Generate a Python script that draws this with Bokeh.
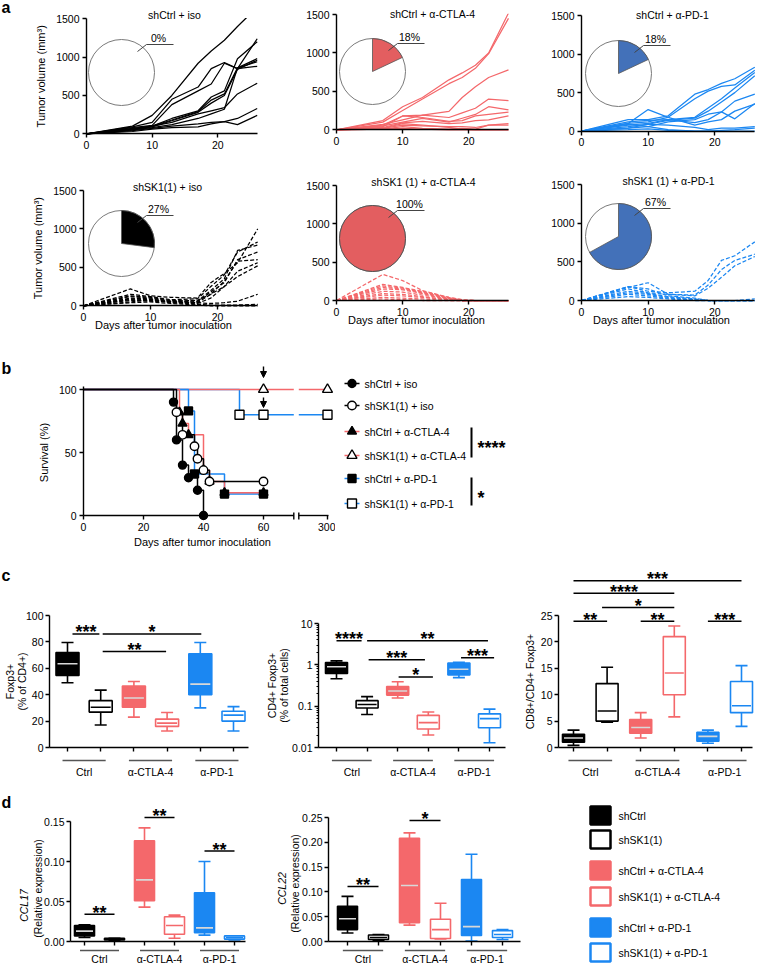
import math
from bokeh.plotting import figure
from bokeh.layouts import column, row
from bokeh.models import (Range1d, FixedTicker, Label, Arrow, NormalHead,
                          NumeralTickFormatter, BoxAnnotation)
from bokeh.embed import file_html
from bokeh.resources import INLINE

FONT = "Liberation Sans"
BLACK = "#000000"
RED = "#F4686B"
BLUE = "#1B87F2"
PIE_RED = "#E35E60"
PIE_BLUE = "#4371B9"
GREY = "#555555"

# ---------------- panel a data ----------------
days = [0, 7, 10, 13, 17, 19, 21, 23, 26]
day_ticks = [0, 10, 20]
vol_ticks = [0, 500, 1000, 1500]
vol_shctrl_iso = [
    [0, 100, 240, 500, 920, 1080, 1220, 1400, 1650],
    [0, 90, 150, 450, 610, 850, 930, 850, 880],
    [0, 80, 110, 380, 560, 650, 920, 850, 1240],
    [0, 70, 100, 200, 300, 480, 560, 980, 1200],
    [0, 60, 100, 180, 290, 440, 520, 860, 980],
    [0, 50, 90, 170, 280, 400, 500, 840, 960],
    [0, 60, 100, 150, 260, 300, 340, 520, 660],
    [0, 50, 80, 120, 200, 260, 320, 860, 940],
    [0, 40, 70, 100, 130, 150, 160, 200, 330],
    [0, 30, 60, 80, 90, 130, 160, 120, 240],
]
vol_shctrl_ctla4 = [
    [0, 120, 300, 420, 650, 740, 840, 1000, 1520],
    [0, 100, 250, 400, 600, 680, 800, 990, 1450],
    [0, 60, 180, 190, 240, 420, 560, 680, 780],
    [0, 70, 130, 190, 160, 220, 280, 400, 380],
    [0, 50, 100, 150, 100, 150, 200, 300, 260],
    [0, 40, 180, 160, 110, 120, 180, 200, 230],
    [0, 30, 90, 110, 80, 90, 120, 130, 180],
    [0, 20, 60, 50, 40, 40, 30, 60, 80],
    [0, 10, 40, 20, 10, 20, 10, 60, 60],
    [0, 20, 80, 60, 30, 10, 0, 0, 0],
    [0, 10, 20, 10, 0, 0, 0, 0, 0],
]
vol_shctrl_pd1 = [
    [0, 150, 150, 200, 480, 540, 620, 680, 830],
    [0, 100, 120, 180, 420, 520, 580, 600, 790],
    [0, 80, 100, 150, 180, 300, 420, 560, 760],
    [0, 60, 90, 140, 170, 260, 380, 500, 720],
    [0, 40, 60, 120, 150, 220, 250, 390, 480],
    [0, 120, 140, 150, 110, 150, 250, 160, 360],
    [0, 100, 280, 180, 80, 120, 150, 260, 350],
    [0, 40, 90, 80, 50, 20, 40, 40, 60],
    [0, 20, 30, 10, 0, 0, 10, 20, 40],
    [0, 90, 60, 20, 0, 0, 0, 0, 0],
]
vol_shsk1_iso = [
    [0, 220, 130, 110, 100, 300, 420, 560, 1000],
    [0, 150, 120, 80, 90, 250, 400, 700, 830],
    [0, 130, 110, 70, 60, 200, 350, 720, 790],
    [0, 120, 100, 60, 50, 180, 300, 600, 700],
    [0, 100, 90, 50, 40, 150, 320, 580, 600],
    [0, 90, 80, 40, 30, 100, 250, 450, 560],
    [0, 80, 70, 60, 70, 150, 250, 380, 520],
    [0, 70, 60, 50, 40, 30, 40, 60, 150],
    [0, 50, 80, 50, 20, 10, 10, 10, 20],
    [0, 40, 50, 30, 10, 0, 0, 0, 0],
]
vol_shsk1_ctla4 = [
    [0, 340, 260, 130, 40, 10, 0, 0, 0],
    [0, 210, 170, 120, 40, 10, 0, 0, 0],
    [0, 190, 160, 110, 30, 0, 0, 0, 0],
    [0, 170, 150, 100, 30, 0, 0, 0, 0],
    [0, 150, 140, 90, 20, 0, 0, 0, 0],
    [0, 120, 110, 70, 20, 0, 0, 0, 0],
    [0, 90, 80, 50, 10, 0, 0, 0, 0],
    [0, 70, 60, 40, 10, 0, 0, 0, 0],
    [0, 40, 30, 20, 0, 0, 0, 0, 0],
    [0, 20, 10, 0, 0, 0, 0, 0, 0],
]
vol_shsk1_pd1 = [
    [0, 180, 120, 100, 120, 260, 520, 580, 760],
    [0, 170, 230, 80, 70, 200, 400, 520, 600],
    [0, 150, 100, 80, 60, 160, 300, 450, 570],
    [0, 180, 150, 60, 30, 0, 0, 0, 20],
    [0, 120, 90, 50, 20, 0, 0, 0, 0],
    [0, 100, 80, 40, 10, 0, 0, 0, 0],
    [0, 80, 60, 30, 10, 0, 0, 0, 0],
    [0, 50, 40, 20, 0, 0, 0, 0, 0],
]
tumor_titles = ["shCtrl + iso", "shCtrl + α-CTLA-4", "shCtrl + α-PD-1",
                "shSK1(1) + iso", "shSK1 (1) + α-CTLA-4", "shSK1 (1) + α-PD-1"]
tumor_free_pct = [0, 18, 18, 27, 100, 67]

# ---------------- panel b data ----------------
surv_names = ["shCtrl + iso", "shSK1(1) + iso", "shCtrl + α-CTLA-4",
              "shSK1(1) + α-CTLA-4", "shCtrl + α-PD-1", "shSK1(1) + α-PD-1"]
surv_t = [
    [0, 30, 31, 33, 35, 38, 40],
    [0, 31, 33, 37, 38, 40, 42, 60],
    [0, 32, 33, 35, 40, 42, 47, 60],
    [0, 60, 300],
    [0, 35, 37, 47, 60],
    [0, 52, 60, 300],
]
surv_s = [
    [100, 90, 60, 40, 30, 20, 0],
    [100, 82, 64, 55, 45, 36, 27, 27],
    [100, 82, 73, 64, 36, 27, 18, 18],
    [100, 100, 100],
    [100, 83, 33, 17, 17],
    [100, 80, 80, 80],
]
surv_ticks = [0, 20, 40, 60, 300]
surv_yticks = [0, 50, 100]

# ---------------- panel c / d data ----------------
box_groups = ["Ctrl", "α-CTLA-4", "α-PD-1"]
box_names = ["shCtrl", "shSK1(1)", "shCtrl + α-CTLA-4", "shSK1(1) + α-CTLA-4",
             "shCtrl + α-PD-1", "shSK1(1) + α-PD-1"]
# (lower whisker, Q1, median, Q3, upper whisker)
foxp3_pct_cd4 = [(49, 54.5, 63.5, 72, 79.5), (17, 26.8, 30.5, 35.5, 43.5),
                 (23, 30.5, 37.5, 46.5, 50), (12.5, 16, 18.5, 21.5, 26.5),
                 (30, 40, 48, 71, 79.5), (12.5, 20, 24.5, 27.5, 31)]
cd4_foxp3_pct_total = [(0.46, 0.62, 0.9, 1.14, 1.25), (0.063, 0.09, 0.11, 0.136, 0.17),
                       (0.157, 0.185, 0.232, 0.3, 0.39), (0.02, 0.028, 0.04, 0.06, 0.072),
                       (0.49, 0.57, 0.78, 1.1, 1.15), (0.013, 0.03, 0.05, 0.065, 0.085)]
cd8_cd4foxp3_ratio = [(0.4, 1.0, 1.8, 2.5, 3.3), (4.8, 5.0, 6.9, 12.1, 15.2),
                      (1.8, 2.7, 3.8, 5.3, 6.6), (5.8, 10.0, 14.1, 21.0, 23.0),
                      (0.8, 1.2, 2.1, 2.9, 3.3), (4.0, 6.6, 7.9, 12.5, 15.5)]
ccl17_expr = [(0.005, 0.007, 0.013, 0.020, 0.021), (0.001, 0.002, 0.003, 0.004, 0.004),
              (0.043, 0.051, 0.077, 0.126, 0.142), (0.004, 0.009, 0.020, 0.031, 0.033),
              (0.008, 0.011, 0.017, 0.061, 0.100), (0.002, 0.003, 0.005, 0.007, 0.007)]
ccl22_expr = [(0.017, 0.024, 0.046, 0.071, 0.091), (0.002, 0.004, 0.008, 0.013, 0.014),
              (0.033, 0.038, 0.113, 0.208, 0.219), (0.005, 0.006, 0.024, 0.045, 0.077),
              (0.001, 0.012, 0.030, 0.125, 0.176), (0.004, 0.008, 0.014, 0.022, 0.024)]
foxp3_ticks = [0, 20, 40, 60, 80, 100]
cd4_ticks = [0.01, 0.1, 1, 10]
ratio_ticks = [0, 5, 10, 15, 20, 25]
ccl17_ticks = [0, 0.05, 0.10, 0.15]
ccl22_ticks = [0, 0.05, 0.10, 0.15, 0.20, 0.25]
# significance: (stars, from box, to box, height)
sig_foxp3 = [("***", 1.15, 1.96, 86), ("*", 2.06, 5.03, 86), ("**", 2.06, 3.97, 72.7)]
sig_cd4 = [("****", 1.0, 1.82, 3.85), ("**", 2.0, 5.95, 3.85), ("***", 2.05, 3.89, 1.33),
           ("*", 3.03, 4.15, 0.51), ("***", 5.07, 6.15, 1.48)]
sig_ratio = [("**", 1.0, 2.0, 23.9), ("**", 3.0, 4.0, 23.9), ("***", 5.0, 6.0, 23.9),
             ("*", 1.85, 4.0, 26.5), ("****", 1.0, 4.0, 29.2), ("***", 1.0, 6.0, 31.6)]
sig_ccl17 = [("**", 1.0, 2.0, 0.034), ("**", 3.0, 4.0, 0.155), ("**", 5.0, 6.0, 0.113)]
sig_ccl22 = [("**", 1.0, 2.0, 0.111), ("*", 3.0, 4.0, 0.244)]

box_color = [BLACK, BLACK, RED, RED, BLUE, BLUE]
box_filled = [True, False, True, False, True, False]


# ---------------- helpers ----------------
class Map:
    """Maps pixel positions (page coordinates) of a figure box to data values."""

    def __init__(self, box, xa, pxa, xb, pxb, ya, pya, yb, pyb, ylog=False):
        left, top, w, h = box
        self.ylog = ylog
        f = (lambda v: math.log10(v)) if ylog else (lambda v: v)
        self.kx = (pxb - pxa) / (xb - xa)
        self.xa, self.pxa = xa, pxa
        self.ky = (pyb - pya) / (f(yb) - f(ya))
        self.ya, self.pya = f(ya), pya
        self.xr = (self.X(left), self.X(left + w))
        self.yr = (self.Y(top + h), self.Y(top))

    def X(self, px):
        return self.xa + (px - self.pxa) / self.kx

    def Y(self, py):
        v = self.ya + (py - self.pya) / self.ky
        return 10 ** v if self.ylog else v


def identity_map(box):
    return Map(box, 0, 0, 1, 1, 0, 0, 1, 1)


def mkfig(box, m, log=False, axes=True):
    kw = dict(width=box[2], height=box[3], x_range=Range1d(*m.xr), y_range=Range1d(*m.yr),
              min_border_left=0, min_border_right=0, min_border_top=0, min_border_bottom=0,
              toolbar_location=None, output_backend="svg")
    if log:
        kw["y_axis_type"] = "log"
    if not axes:
        kw["x_axis_location"] = None
        kw["y_axis_location"] = None
    p = figure(**kw)
    p.grid.visible = False
    p.outline_line_color = None
    p.background_fill_color = "white"
    p.border_fill_color = "white"
    return p


def axes_setup(p, xfix, yfix, xbounds, ybounds, xticks, yticks, fs="10.5px"):
    for ax in p.axis:
        ax.axis_line_color = "black"
        ax.axis_line_width = 1.4
        ax.major_tick_line_color = "black"
        ax.major_tick_line_width = 1.4
        ax.major_tick_out = 4
        ax.major_tick_in = 0
        ax.minor_tick_line_color = None
        ax.major_label_text_font = FONT
        ax.major_label_text_font_size = fs
        ax.major_label_text_color = "black"
        ax.major_label_standoff = 3
    p.yaxis.fixed_location = xfix
    p.xaxis.fixed_location = yfix
    p.xaxis.bounds = xbounds
    p.yaxis.bounds = ybounds
    p.xaxis.ticker = xticks
    p.yaxis.ticker = yticks


def lbl(p, x, y, s, size="10px", align="center", base_="middle", angle=0,
        fstyle="normal", dx=0, dy=0, color="black"):
    p.add_layout(Label(x=x, y=y, x_offset=dx, y_offset=dy, text=s, text_font=FONT,
                       text_font_size=size, text_align=align, text_baseline=base_,
                       angle=angle, text_font_style=fstyle, text_color=color))


def stars(p, x, y, s, dy=1.5, size="18px", align="center"):
    lbl(p, x, y, s, size=size, align=align, base_="alphabetic", fstyle="bold", dy=dy)


# ---------------- panel a ----------------
A_BOXES = [(0, 0, 268, 160), (268, 0, 250, 160), (518, 0, 240, 160),
           (0, 160, 268, 175), (268, 160, 250, 175), (518, 160, 240, 175)]
# pixel positions of day 0 / day 20 and volume 0 / 1500
A_AXES = [(86, 217.3, 133.3, 18.3), (336, 468.3, 129.3, 14), (581, 714.3, 130.7, 15),
          (83, 217, 305.3, 190), (336, 468.3, 300, 185), (581, 714.3, 300, 184.3)]
A_TITLE_POS = [(174, 14), (432, 13), (672, 14), (167, 186), (423, 181), (668, 180)]
A_PIE_POS = [(121, 72), (372, 71), (618, 73), (121, 243), (372, 238), (618, 236)]
PIE_R = 33
A_SERIES = [vol_shctrl_iso, vol_shctrl_ctla4, vol_shctrl_pd1,
            vol_shsk1_iso, vol_shsk1_ctla4, vol_shsk1_pd1]
A_COLOR = [BLACK, RED, BLUE, BLACK, RED, BLUE]
A_PIE_COLOR = [BLACK, PIE_RED, PIE_BLUE, BLACK, PIE_RED, PIE_BLUE]
A_DASH = ["solid"] * 3 + ["4 2"] * 3
DAY_END, VOL_TOP = 26, 1500


def tumor_panel(i):
    box = A_BOXES[i]
    x0px, x20px, y0px, y1500px = A_AXES[i]
    m = Map(box, 0, x0px, 20, x20px, 0, y0px, 1500, y1500px)
    p = mkfig(box, m)
    for s in A_SERIES[i]:
        p.line(days, s, line_color=A_COLOR[i], line_width=1.25, line_dash=A_DASH[i])
    axes_setup(p, 0, 0, (0, DAY_END), (0, VOL_TOP), FixedTicker(ticks=day_ticks),
               FixedTicker(ticks=vol_ticks))
    # hide the parts of growth curves that run above the axis top
    p.add_layout(BoxAnnotation(left=m.X(x0px + 1.2), bottom=m.Y(y1500px - 0.8),
                               fill_color="white", fill_alpha=1.0, line_color=None))
    cx, cy = A_PIE_POS[i]
    pct = tumor_free_pct[i]
    X, Y = m.X(cx), m.Y(cy)
    p.scatter([X], [Y], marker="circle", size=2 * PIE_R, fill_color="white",
              line_color="#7a7a7a", line_width=1)
    if pct >= 100:
        p.scatter([X], [Y], marker="circle", size=2 * PIE_R, fill_color=A_PIE_COLOR[i],
                  line_color="#555555", line_width=1)
    elif pct > 0:
        p.wedge(x=[X], y=[Y], radius=PIE_R, radius_units="screen",
                start_angle=math.pi / 2, end_angle=math.pi / 2 - 2 * math.pi * pct / 100,
                direction="clock", fill_color=A_PIE_COLOR[i], line_color="#555555",
                line_width=0.8)
    p.line([m.X(cx + 16), m.X(cx + 25), m.X(cx + 52)],
           [m.Y(cy - 21), m.Y(cy - 28), m.Y(cy - 28)], line_color="#444444", line_width=1)
    lbl(p, m.X(cx + 37), m.Y(cy - 35), f"{pct}%", size="10.5px")
    tx, ty = A_TITLE_POS[i]
    lbl(p, m.X(tx), m.Y(ty), tumor_titles[i], size="10.5px")
    if i in (0, 3):
        lbl(p, m.X(x0px - 46), m.Y((y0px + y1500px) / 2), "Tumor volume (mm³)",
            size="11px", angle=math.pi / 2)
    if i >= 3:
        lbl(p, m.X(x0px + 80), m.Y(y0px + 19), "Days after tumor inoculation", size="11px")
    if i == 0:
        lbl(p, m.X(1), m.Y(7), "a", size="16px", align="left", fstyle="bold")
    return p


fa = [tumor_panel(i) for i in range(6)]

# ---------------- panel b ----------------
B_BOX = (0, 335, 335, 220)
mb = Map(B_BOX, 0, 83, 60, 263, 0, 515, 100, 389)
X300 = mb.X(327)
BREAK_A, BREAK_B = mb.X(293.3), mb.X(298.3)


def xmap(d):
    return d if d <= 60 else X300


surv_line_color = [BLACK, BLACK, RED, RED, BLUE, BLUE]
surv_marker = ["circle", "circle", "triangle", "triangle", "square", "square"]
surv_fill = ["black", "white", "black", "white", "black", "white"]
surv_size = [8, 8.5, 9, 10, 8, 9]

fb = mkfig(B_BOX, mb)
axes_setup(fb, 0, 0, (0, mb.X(328)), (0, mb.Y(386)),
           FixedTicker(ticks=[xmap(t) for t in surv_ticks]), FixedTicker(ticks=surv_yticks))
fb.xaxis.major_label_overrides = {xmap(t): str(t) for t in surv_ticks}
fb.xaxis.axis_line_color = None
fb.segment(x0=[0, BREAK_B, BREAK_A, BREAK_B], y0=[0, 0, mb.Y(519), mb.Y(519)],
           x1=[BREAK_A, mb.X(328), BREAK_A, BREAK_B], y1=[0, 0, mb.Y(512), mb.Y(512)],
           line_color="black", line_width=1.4)

for i in [5, 3, 4, 2, 1, 0]:
    t, s = surv_t[i], surv_s[i]
    xs, ys = [xmap(t[0])], [s[0]]
    for k in range(1, len(t)):
        if t[k] > 60:
            fb.segment(x0=[xs[-1], BREAK_B], y0=[s[k]] * 2, x1=[BREAK_A, xmap(t[k])],
                       y1=[s[k]] * 2, line_color=surv_line_color[i], line_width=1.5)
        else:
            xs += [xmap(t[k]), xmap(t[k])]
            ys += [s[k - 1], s[k]]
    fb.line(xs, ys, line_color=surv_line_color[i], line_width=1.5)
for i in [5, 3, 4, 2, 1, 0]:
    fb.scatter([xmap(v) for v in surv_t[i][1:]], surv_s[i][1:], marker=surv_marker[i],
               size=surv_size[i], fill_color=surv_fill[i], line_color="black", line_width=1.4)
for y_from, y_to in [(366, 377), (397, 407)]:
    fb.add_layout(Arrow(end=NormalHead(size=6, fill_color="black", line_color="black"),
                        x_start=60, y_start=mb.Y(y_from), x_end=60, y_end=mb.Y(y_to),
                        line_color="black", line_width=1.4))
lbl(fb, mb.X(43), mb.Y(452), "Survival (%)", size="11px", angle=math.pi / 2)
lbl(fb, mb.X(202), mb.Y(541), "Days after tumor inoculation", size="11px")
lbl(fb, mb.X(1), mb.Y(368), "b", size="16px", align="left", fstyle="bold")

# legend for b
FL_BOX = (335, 335, 423, 220)
ml = identity_map(FL_BOX)
fl = mkfig(FL_BOX, ml, axes=False)
leg_y = [383, 405, 431, 455, 478, 503]
for i, name in enumerate(surv_names):
    y = leg_y[i]
    fl.segment(x0=[344], y0=[y], x1=[359], y1=[y], line_color=surv_line_color[i], line_width=1.5)
    fl.scatter([351.5], [y], marker=surv_marker[i], size=surv_size[i], fill_color=surv_fill[i],
               line_color="black", line_width=1.4)
    lbl(fl, 364, y, name, size="10.5px", align="left")
fl.segment(x0=[471, 471], y0=[427, 477], x1=[471, 471], y1=[457, 505], line_color="black",
           line_width=2)
stars(fl, 477, 443, "****", dy=-4, align="left")
stars(fl, 477, 493, "*", dy=-4, align="left")


# ---------------- panels c / d ----------------
def box_panel(box, m, stats, bw_px, cw_px, sig, yaxis_px, xend_px, ybounds, yticks,
              under_py, label_py, ylabels, log=False, yfmt=None, lw=1.6):
    p = mkfig(box, m, log=log)
    axes_setup(p, m.X(yaxis_px), ybounds[0], (m.X(yaxis_px), m.X(xend_px)), ybounds,
               FixedTicker(ticks=[1, 2, 3, 4, 5, 6]), yticks)
    p.xaxis.major_label_overrides = {k: "" for k in range(1, 7)}
    p.yaxis.major_label_standoff = 2
    if yfmt is not None:
        p.yaxis.formatter = yfmt
    bw, cw = bw_px / m.kx, cw_px / m.kx
    for i, (lo, q1, med, q3, hi) in enumerate(stats):
        x = i + 1
        col = box_color[i]
        p.segment(x0=[x, x], y0=[lo, q3], x1=[x, x], y1=[q1, hi], line_color=col, line_width=lw)
        p.segment(x0=[x - cw / 2] * 2, y0=[lo, hi], x1=[x + cw / 2] * 2, y1=[lo, hi],
                  line_color=col, line_width=lw)
        p.quad(left=[x - bw / 2], right=[x + bw / 2], bottom=[q1], top=[q3],
               fill_color=col if box_filled[i] else "white", line_color=col, line_width=lw)
        inset = 1.5 / m.kx
        p.segment(x0=[x - bw / 2 + inset], y0=[med], x1=[x + bw / 2 - inset], y1=[med],
                  line_color="#d8d8d8" if box_filled[i] else col, line_width=lw)
    for s, x0, x1, y in sig:
        p.segment(x0=[x0], y0=[y], x1=[x1], y1=[y], line_color="black", line_width=1.5)
        stars(p, (x0 + x1) / 2, y, s)
    yu, yl = m.Y(under_py), m.Y(label_py)
    for g, name in enumerate(box_groups):
        a = 2 * g + 1
        p.segment(x0=[a - 0.15], y0=[yu], x1=[a + 1.15], y1=[yu], line_color=GREY, line_width=1.5)
        lbl(p, a + 0.5, yl, name, size="10.5px")
    for text, px, py, italic in ylabels:
        lbl(p, m.X(px), m.Y(py), text, size="10.5px", angle=math.pi / 2,
            fstyle="italic" if italic else "normal")
    return p


C1_BOX, C2_BOX, C3_BOX = (0, 555, 266, 235), (266, 555, 254, 235), (520, 555, 238, 235)
mc1 = Map(C1_BOX, 1, 67, 6, 233, 0, 747, 100, 615)
mc2 = Map(C2_BOX, 1, 336, 6, 489, 0.01, 747, 10, 623, ylog=True)
mc3 = Map(C3_BOX, 1, 573, 6, 741, 0, 747, 25, 615)

fc1 = box_panel(C1_BOX, mc1, foxp3_pct_cd4, 23, 12, sig_foxp3, 49, 248, (0, 100),
                FixedTicker(ticks=foxp3_ticks), 760, 771,
                [("Foxp3+", 9, 681, False), ("(% of CD4+)", 21, 681, False)])
lbl(fc1, mc1.X(1), mc1.Y(575), "c", size="16px", align="left", fstyle="bold")

fc2 = box_panel(C2_BOX, mc2, cd4_foxp3_pct_total, 22, 12, sig_cd4, 318, 505, (0.01, 10),
                FixedTicker(ticks=cd4_ticks,
                            minor_ticks=[k * d for d in (0.01, 0.1, 1) for k in range(2, 10)]),
                760, 771,
                [("CD4+ Foxp3+", 271, 685, False), ("(% of total cells)", 283, 685, False)],
                log=True)
fc2.yaxis.major_label_overrides = {t: f"{t:g}" for t in cd4_ticks}
fc2.yaxis.minor_tick_line_color = "black"
fc2.yaxis.minor_tick_out = 2
fc2.yaxis.minor_tick_in = 0
fc2.yaxis.minor_tick_line_width = 1

fc3 = box_panel(C3_BOX, mc3, cd8_cd4foxp3_ratio, 22, 12, sig_ratio, 558, 752, (0, 25),
                FixedTicker(ticks=ratio_ticks), 760, 771,
                [("CD8+/CD4+ Foxp3+", 529, 681, False)])

D1_BOX, D2_BOX, DL_BOX = (0, 790, 272, 174), (272, 790, 258, 174), (530, 790, 228, 174)
md1 = Map(D1_BOX, 1, 84, 6, 234, 0, 941, 0.15, 821)
md2 = Map(D2_BOX, 1, 347, 6, 502, 0, 941, 0.25, 817)

fd1 = box_panel(D1_BOX, md1, ccl17_expr, 20, 12, sig_ccl17, 70, 245, (0, 0.15),
                FixedTicker(ticks=ccl17_ticks), 950, 958,
                [("CCL17", 23, 905, True), ("(Relative expression)", 37, 888, False)],
                yfmt=NumeralTickFormatter(format="0.00"))
lbl(fd1, md1.X(1), md1.Y(802), "d", size="16px", align="left", fstyle="bold")

fd2 = box_panel(D2_BOX, md2, ccl22_expr, 20, 12, sig_ccl22, 328, 520, (0, 0.25),
                FixedTicker(ticks=ccl22_ticks), 950, 958,
                [("CCL22", 281, 888, True), ("(Relative expression)", 294, 883, False)],
                yfmt=NumeralTickFormatter(format="0.00"))

mdl = identity_map(DL_BOX)
fdl = mkfig(DL_BOX, mdl, axes=False)
dleg_y = [815, 839, 870, 896, 927, 952]
for i, name in enumerate(box_names):
    y = dleg_y[i]
    fdl.quad(left=[590], right=[610], top=[y - 9], bottom=[y + 9],
             fill_color=box_color[i] if box_filled[i] else "white",
             line_color=box_color[i], line_width=2.5)
    lbl(fdl, 618, y, name, size="10.5px", align="left")

layout = column(
    row(fa[0], fa[1], fa[2]),
    row(fa[3], fa[4], fa[5]),
    row(fb, fl),
    row(fc1, fc2, fc3),
    row(fd1, fd2, fdl),
)

open("out.html", "w").write(file_html(layout, INLINE))
